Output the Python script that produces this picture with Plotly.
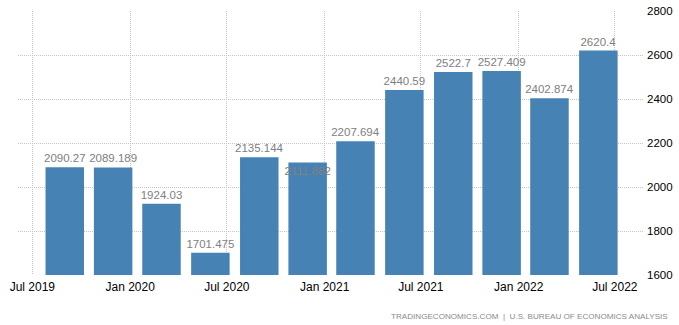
import plotly.graph_objects as go

dates = ["2019-08-31", "2019-11-30", "2020-02-29", "2020-05-31", "2020-08-31", "2020-11-30",
         "2021-02-28", "2021-05-31", "2021-08-31", "2021-11-30", "2022-02-28", "2022-05-31"]
values = [2090.27, 2089.189, 1924.03, 1701.475, 2135.144, 2111.882,
          2207.694, 2440.59, 2522.7, 2527.409, 2402.874, 2620.4]
labels = ["2090.27", "2089.189", "1924.03", "1701.475", "2135.144", "2111.882",
          "2207.694", "2440.59", "2522.7", "2527.409", "2402.874", "2620.4"]
text_pos = ["outside"] * 5 + ["inside"] + ["outside"] * 6

FONT = "Liberation Sans, Arial, sans-serif"

fig = go.Figure()
fig.add_trace(go.Bar(
    x=dates, y=values, text=labels,
    textposition=text_pos, insidetextanchor="end", textangle=0,
    constraintext="none", cliponaxis=False,
    textfont=dict(family=FONT, size=11.5, color="#808080"),
    insidetextfont=dict(family=FONT, size=11.5, color="#808080"),
    outsidetextfont=dict(family=FONT, size=11.5, color="#808080"),
    marker=dict(color="#4682B4", line=dict(width=0)),
    width=72.4 * 86400000,
    hoverinfo="skip",
))

fig.update_layout(
    width=679, height=325,
    margin=dict(l=18, r=36, t=11, b=50, autoexpand=False),
    paper_bgcolor="white", plot_bgcolor="white",
    showlegend=False,
    font=dict(family=FONT, size=11, color="#000000"),
    xaxis=dict(
        type="date", automargin=False,
        range=["2019-06-04", "2022-08-23"],
        tick0="2019-07-01", dtick="M6", tickformat="%b %Y",
        showgrid=True, gridcolor="#c4c4c4", griddash="1px,1px", gridwidth=1,
        showline=False, zeroline=False, ticks="",
        ticklabelstandoff=3,
        tickfont=dict(family=FONT, size=12, color="#000000"),
    ),
    yaxis=dict(
        side="right", range=[1600, 2800], tick0=1600, dtick=200, automargin=False,
        showgrid=True, gridcolor="#c4c4c4", griddash="1px,1px", gridwidth=1,
        showline=False, zeroline=False, ticks="",
        ticklabelstandoff=3,
        tickfont=dict(family=FONT, size=11.5, color="#000000"),
    ),
    annotations=[dict(
        text="TRADINGECONOMICS.COM  |  U.S. BUREAU OF ECONOMICS ANALYSIS",
        xref="paper", yref="paper", x=1.0432, y=-0.159,
        xanchor="right", yanchor="middle", showarrow=False,
        font=dict(family=FONT, size=8.1, color="#8a8a8a"),
    )],
)

fig.write_html("out.html")
